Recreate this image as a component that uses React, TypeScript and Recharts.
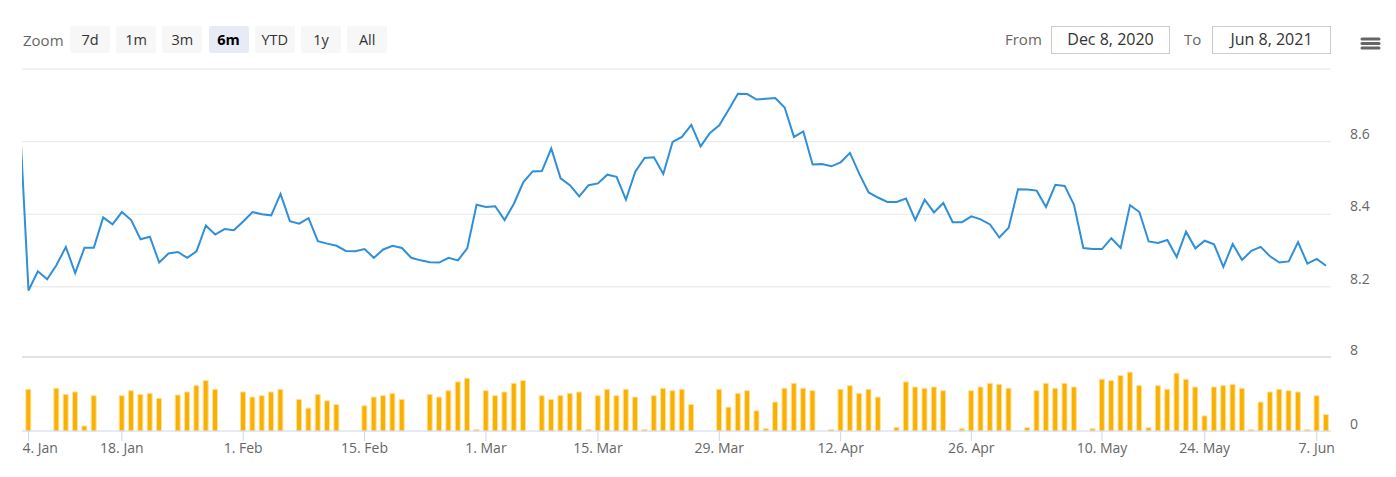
import React from 'react';
import { LineChart, Line, BarChart, Bar, XAxis, YAxis, ReferenceLine } from 'recharts';

// Price series (index 0 lies just before the visible window and is clipped)
const price = [
  8.69, 8.19, 8.243, 8.221, 8.26, 8.31, 8.238, 8.308, 8.308, 8.391,
  8.372, 8.406, 8.384, 8.331, 8.338, 8.267, 8.292, 8.296, 8.28, 8.298,
  8.369, 8.344, 8.359, 8.356, 8.38, 8.406, 8.4, 8.397, 8.456, 8.381,
  8.374, 8.389, 8.326, 8.319, 8.313, 8.299, 8.298, 8.304, 8.28, 8.303,
  8.313, 8.307, 8.28, 8.273, 8.268, 8.267, 8.28, 8.273, 8.306, 8.426,
  8.42, 8.422, 8.384, 8.429, 8.488, 8.518, 8.519, 8.581, 8.499, 8.48,
  8.449, 8.48, 8.485, 8.509, 8.503, 8.44, 8.517, 8.555, 8.557, 8.511,
  8.599, 8.613, 8.646, 8.587, 8.624, 8.645, 8.688, 8.732, 8.731, 8.716,
  8.718, 8.72, 8.694, 8.613, 8.628, 8.537, 8.538, 8.532, 8.543, 8.569,
  8.511, 8.46, 8.446, 8.434, 8.434, 8.443, 8.384, 8.44, 8.405, 8.431,
  8.378, 8.378, 8.394, 8.386, 8.372, 8.336, 8.363, 8.469, 8.468, 8.465,
  8.42, 8.481, 8.478, 8.426, 8.307, 8.304, 8.304, 8.334, 8.307, 8.425,
  8.406, 8.325, 8.321, 8.329, 8.282, 8.352, 8.306, 8.327, 8.317, 8.255,
  8.318, 8.274, 8.299, 8.31, 8.284, 8.267, 8.27, 8.323, 8.264, 8.277,
  8.258,
];

const volume: (number | null)[] = [
  null, 4.51, null, null, 4.62, 3.96, 4.22, 0.55, 3.82, null,
  null, 3.82, 4.36, 3.96, 4.07, 3.53, null, 3.89, 4.22, 4.91,
  5.45, 4.51, null, null, 4.22, 3.67, 3.82, 4.22, 4.51, null,
  3.42, 2.47, 3.96, 3.27, 2.87, null, null, 2.73, 3.67, 3.82,
  4.07, 3.42, null, null, 3.96, 3.67, 4.36, 5.31, 5.71, 0.15,
  4.36, 3.82, 4.22, 5.16, 5.45, null, 3.82, 3.42, 3.82, 4.07,
  4.22, 0.15, 3.82, 4.51, 3.82, 4.51, 3.67, 0.15, 3.82, 4.62,
  4.36, 4.51, 2.87, null, null, 4.51, 2.58, 4.07, 4.36, 2.18,
  0.25, 3.13, 4.62, 5.16, 4.62, 4.36, null, 0.15, 4.51, 4.91,
  4.07, 4.51, 3.67, null, 0.4, 5.31, 4.76, 4.62, 4.76, 4.36,
  null, 0.25, 4.36, 4.76, 5.16, 5.05, 4.62, null, 0.36, 4.36,
  5.16, 4.62, 5.16, 4.76, null, 0.25, 5.6, 5.45, 6.0, 6.36,
  4.91, 0.36, 4.91, 4.51, 6.25, 5.6, 4.76, 1.64, 4.76, 4.91,
  5.05, 4.62, 0.15, 3.13, 4.22, 4.51, 4.36, 4.22, 0.15, 3.82,
  1.78,
];

const tickIndex = [1, 11, 24, 37, 50, 62, 75, 88, 102, 116, 127, 139];
const tickLabels = ['4. Jan', '18. Jan', '1. Feb', '15. Feb', '1. Mar', '15. Mar', '29. Mar', '12. Apr', '26. Apr', '10. May', '24. May', '7. Jun'];
const priceTicks = [8.2, 8.4, 8.6, 8.8];
const volumeTicks = [0, 8];
const zoomButtons = ['7d', '1m', '3m', '6m', 'YTD', '1y', 'All'];
const selectedZoom = '6m';
const fromDate = 'Dec 8, 2020';
const toDate = 'Jun 8, 2021';

const xDomain: [number, number] = [0.304, 140.53];

const data = price.map((p, i) => ({ i, price: p, volume: volume[i] }));

const FONT = "'Open Sans', sans-serif";

const PriceTick = (props: any) => {
  const { x, y, payload } = props;
  if (payload.value === priceTicks[priceTicks.length - 1]) return <g />;
  return (
    <text x={x} y={y - 8} dy="0.35em" textAnchor="start" fill="#666666" fontSize={14} fontFamily={FONT}>
      {payload.value.toFixed(1)}
    </text>
  );
};

const VolumeTick = (props: any) => {
  const { x, y, payload } = props;
  return (
    <text x={x} y={y - 7} dy="0.35em" textAnchor="start" fill="#666666" fontSize={14} fontFamily={FONT}>
      {payload.value}
    </text>
  );
};

const DateTick = (props: any) => {
  const { x, y, payload } = props;
  const k = tickIndex.indexOf(payload.value);
  const first = k === 0;
  return (
    <text x={first ? x - 6 : x} y={y} dy="0.71em" textAnchor={first ? 'start' : 'middle'} fill="#666666" fontSize={14} fontFamily={FONT}>
      {tickLabels[k]}
    </text>
  );
};

export default function App() {
  return (
    <div style={{ position: 'absolute', left: 0, top: 0, width: 1396, height: 477, background: '#ffffff', fontFamily: FONT, overflow: 'hidden' }}>
      {/* Range selector */}
      <div style={{ position: 'absolute', left: 23, top: 29, fontSize: 15, color: '#666666', lineHeight: '22px' }}>Zoom</div>
      {zoomButtons.map((b, k) => {
        const sel = b === selectedZoom;
        return (
          <div
            key={b}
            style={{
              position: 'absolute',
              left: 70 + k * 46.2,
              top: 26,
              width: 40,
              height: 27,
              background: sel ? '#e6ebf5' : '#f7f7f7',
              borderRadius: 2,
              color: sel ? '#000000' : '#333333',
              fontWeight: sel ? 700 : 400,
              fontSize: 14.5,
              lineHeight: '27px',
              textAlign: 'center',
            }}
          >
            {b}
          </div>
        );
      })}
      <div style={{ position: 'absolute', left: 1005, top: 28, fontSize: 15, color: '#666666', lineHeight: '22px' }}>From</div>
      <div style={{ position: 'absolute', left: 1051, top: 26, width: 119, height: 28, boxSizing: 'border-box', border: '1px solid #cccccc', fontSize: 16, color: '#333333', lineHeight: '25px', textAlign: 'center' }}>{fromDate}</div>
      <div style={{ position: 'absolute', left: 1184, top: 28, fontSize: 15, color: '#666666', lineHeight: '22px' }}>To</div>
      <div style={{ position: 'absolute', left: 1212, top: 26, width: 119, height: 28, boxSizing: 'border-box', border: '1px solid #cccccc', fontSize: 16, color: '#333333', lineHeight: '25px', textAlign: 'center' }}>{toDate}</div>
      <svg style={{ position: 'absolute', left: 0, top: 0 }} width={1396} height={60}>
        <line x1={1362} x2={1379} y1={39} y2={39} stroke="#666666" strokeWidth={3} strokeLinecap="round" />
        <line x1={1362} x2={1379} y1={43.5} y2={43.5} stroke="#666666" strokeWidth={3} strokeLinecap="round" />
        <line x1={1362} x2={1379} y1={48} y2={48} stroke="#666666" strokeWidth={3} strokeLinecap="round" />
      </svg>

      {/* Price pane */}
      <div style={{ position: 'absolute', left: 0, top: 0 }}>
        <LineChart width={1396} height={305} data={data} margin={{ top: 69, right: 0, bottom: 0, left: 22 }}>
          <XAxis dataKey="i" type="number" domain={xDomain} allowDataOverflow hide />
          <YAxis
            orientation="right"
            width={65}
            domain={[8.15, 8.8]}
            ticks={priceTicks}
            allowDataOverflow
            axisLine={false}
            tickLine={false}
            tickMargin={13}
            tick={<PriceTick />}
          />
          {priceTicks.map((t) => (
            <ReferenceLine key={t} y={t} stroke="#e6e6e6" strokeWidth={1} />
          ))}
          <Line type="linear" dataKey="price" stroke="#2f8fd8" strokeWidth={2} dot={false} activeDot={false} isAnimationActive={false} />
        </LineChart>
      </div>

      {/* Volume pane */}
      <div style={{ position: 'absolute', left: 0, top: 0 }}>
        <BarChart width={1396} height={477} data={data} margin={{ top: 357, right: 0, bottom: 16, left: 22 }} barSize={5}>
          <ReferenceLine y={8} stroke="#e3e3e3" strokeWidth={2} />
          <XAxis
            dataKey="i"
            type="number"
            domain={xDomain}
            allowDataOverflow
            ticks={tickIndex}
            interval={0}
            height={30}
            tickSize={10}
            tickMargin={2}
            axisLine={{ stroke: '#ccd6eb' }}
            tickLine={{ stroke: '#ccd6eb' }}
            tick={<DateTick />}
          />
          <YAxis
            orientation="right"
            width={65}
            domain={[0, 8]}
            ticks={volumeTicks}
            axisLine={false}
            tickLine={false}
            tickMargin={13}
            tick={<VolumeTick />}
          />
          <Bar dataKey="volume" fill="#f9b000" stroke="#fde1a0" strokeWidth={1} isAnimationActive={false} />
        </BarChart>
      </div>
    </div>
  );
}
